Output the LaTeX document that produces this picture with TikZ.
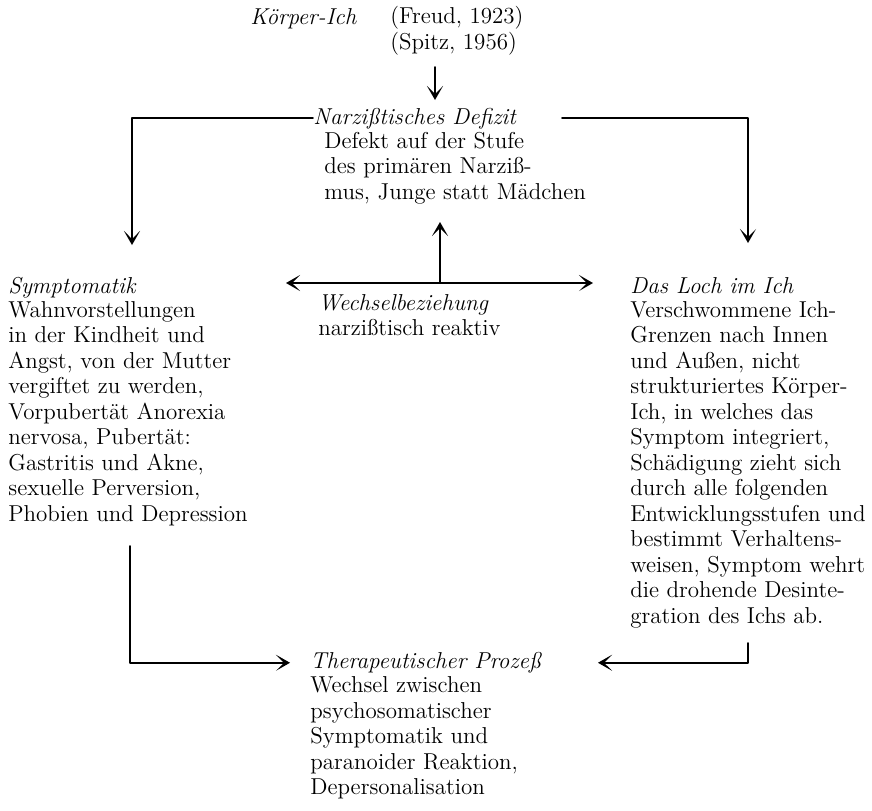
\documentclass[tikz,border=0pt]{standalone}
\usepackage{tikz}
\usetikzlibrary{arrows.meta}

\begin{document}
\begin{tikzpicture}[line cap=round,line join=round,>={Stealth[length=7pt,width=8pt,inset=4pt]},x=0.5pt,y=-0.5pt,
    titel/.style={font=\fontsize{11.5}{12.75}\selectfont\itshape,anchor=base west,inner sep=0pt},
    absatz/.style={font=\fontsize{11.5}{12.75}\selectfont,align=left,anchor=north west,inner sep=0pt,
      execute at begin node=\strut,yshift=8.925pt},
    pfeil/.style={line width=0.8pt}]
      \useasboundingbox (0,0) rectangle (872,810);

      % oben
      \node[titel] (koerper) at (250,24) {Körper-Ich};
      \node[absatz] (quellen) at (390,24) {(Freud, 1923)\\(Spitz, 1956)};
      \node[titel] (defizit) at (313,124) {Narzißtisches Defizit};
      \node[absatz] (defizittext) at (324,149.5) {Defekt auf der Stufe\\des primären Narziß-\\mus, Junge statt Mädchen};

      % mitte
      \node[titel] (symptom) at (8,293) {Symptomatik};
      \node[absatz] (symptomtext) at (8,318.5) {Wahnvorstellungen\\in der Kindheit und\\Angst, von der Mutter\\vergiftet zu werden,\\Vorpubertät Anorexia\\nervosa, Pubertät:\\Gastritis und Akne,\\sexuelle Perversion,\\Phobien und Depression};
      \node[titel] (wechsel) at (318,310) {Wechselbeziehung};
      \node[absatz] (wechseltext) at (318,335.5) {narzißtisch reaktiv};
      \node[titel] (loch) at (630,293) {Das Loch im Ich};
      \node[absatz] (lochtext) at (630,318.5) {Verschwommene Ich-\\Grenzen nach Innen\\und Außen, nicht\\strukturiertes Körper-\\Ich, in welches das\\Symptom integriert,\\Schädigung zieht sich\\durch alle folgenden\\Entwicklungsstufen und\\bestimmt Verhaltens-\\weisen, Symptom wehrt\\die drohende Desinte-\\gration des Ichs ab.};

      % unten
      \node[titel] (prozess) at (310,668.5) {Therapeutischer Prozeß};
      \node[absatz] (prozesstext) at (310,694) {Wechsel zwischen\\psychosomatischer\\Symptomatik und\\paranoider Reaktion,\\Depersonalisation};

      % Pfeile
      \coordinate (k1) at (435,67);
      \coordinate (k2) at (435,100);
      \draw[pfeil,->] (k1) -- (k2);

      \coordinate (s1) at (132,245);
      \draw[pfeil,->] (defizit.west) -| (s1);
      \coordinate (d1) at (562,0);
      \coordinate (l1) at (748,243);
      \draw[pfeil,->] (defizit.east -| d1) -| (l1);

      \coordinate (w0) at (440,283);
      \coordinate (w1) at (440,222);
      \draw[pfeil,->] (w0) -- (w1);
      \coordinate (wl) at (286,283);
      \coordinate (wr) at (593,283);
      \draw[pfeil,<->] (wl) -- (wr);

      \coordinate (b1) at (130,546);
      \draw[pfeil,->] (b1) |- ([xshift=-10pt]prozess.west);
      \coordinate (b3) at (748,643);
      \coordinate (b4) at (598,0);
      \draw[pfeil,->] (b3) |- (prozess.west -| b4);
    \end{tikzpicture}
\end{document}
